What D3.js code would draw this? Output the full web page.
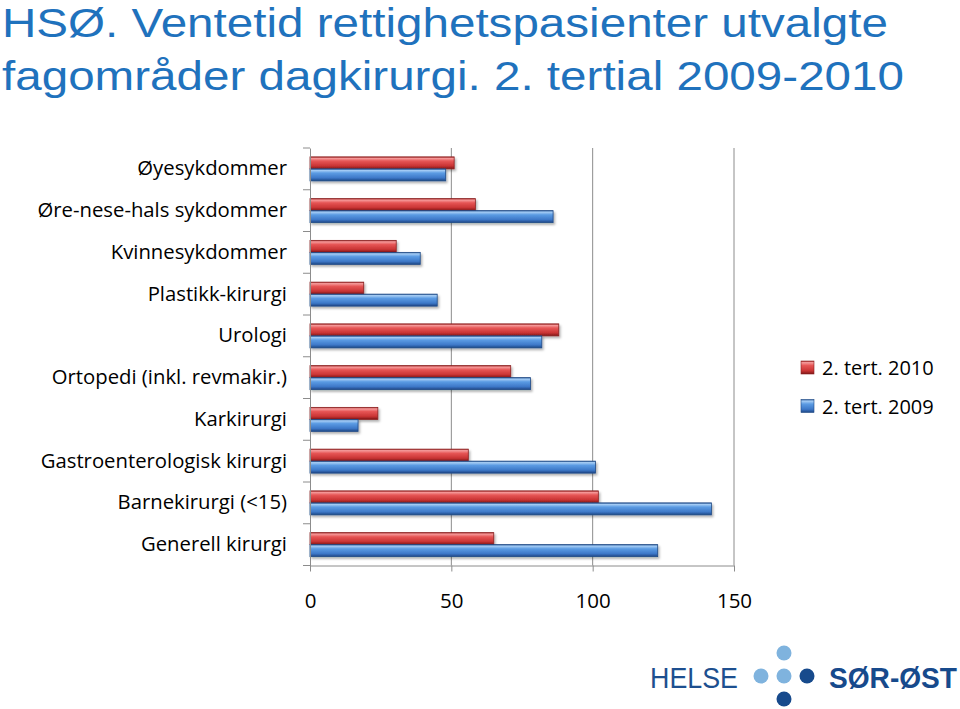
<!DOCTYPE html>
<html><head><meta charset="utf-8">
<script src="https://cdn.jsdelivr.net/npm/d3@7"></script>
<style>body{margin:0;background:#fff}svg{display:block}</style>
</head><body>
<script>
const categories = ["Øyesykdommer","Øre-nese-hals sykdommer","Kvinnesykdommer","Plastikk-kirurgi","Urologi","Ortopedi (inkl. revmakir.)","Karkirurgi","Gastroenterologisk kirurgi","Barnekirurgi (<15)","Generell kirurgi"];
const seriesNames = ["2. tert. 2010","2. tert. 2009"];
const values2010 = [51,58.5,30.5,19,88,71,24,56,102,65];
const values2009 = [48,86,39,45,82,78,17,101,142,123];
const xTicks = [0,50,100,150];
const titleLines = ["HSØ. Ventetid rettighetspasienter utvalgte","fagområder dagkirurgi. 2. tertial 2009-2010"];
const titleWidths = [886,902];

const W=960,H=709;
const FONT="'Open Sans', Lato, sans-serif";
const svg=d3.select("body").append("svg").attr("width",W).attr("height",H);
const defs=svg.append("defs");
function grad(id,stops){const g=defs.append("linearGradient").attr("id",id).attr("x1",0).attr("y1",0).attr("x2",0).attr("y2",1);
 stops.forEach(s=>g.append("stop").attr("offset",s[0]).attr("stop-color",s[1]));}
grad("gRed",[[0,"#a52a2a"],[0.12,"#f59a9a"],[0.35,"#e65555"],[0.75,"#c93434"],[1,"#7e1717"]]);
grad("gBlue",[[0,"#2a5a9a"],[0.12,"#a6cdf5"],[0.35,"#5b9be3"],[0.75,"#3d78c8"],[1,"#1d4684"]]);
const f=defs.append("filter").attr("id","sh").attr("x","-5%").attr("y","-20%").attr("width","115%").attr("height","160%");
f.append("feDropShadow").attr("dx",1.5).attr("dy",2).attr("stdDeviation",1.2).attr("flood-color","#000").attr("flood-opacity",0.3);

// title
svg.append("g").selectAll("text").data(titleLines).join("text")
 .attr("x",2).attr("y",(d,i)=>37+i*53)
 .attr("font-family","Liberation Sans, Arial, sans-serif").attr("font-size",41)
 .attr("textLength",(d,i)=>titleWidths[i]).attr("lengthAdjust","spacingAndGlyphs")
 .attr("fill","#1f72bd").text(d=>d);

const x=d3.scaleLinear().domain([0,150]).range([310,734]);
const y=d3.scaleBand().domain(categories).range([148,565.5]);
const sub=d3.scaleBand().domain(seriesNames).range([0,24]);
const barOff=(y.bandwidth()-24)/2;

// gridlines
svg.append("g").selectAll("line").data(xTicks.slice(1)).join("line")
 .attr("x1",d=>x(d)).attr("x2",d=>x(d)).attr("y1",148).attr("y2",565.5)
 .attr("stroke","#8c8c8c").attr("stroke-width",1);

// bars
const fills={"2. tert. 2010":"url(#gRed)","2. tert. 2009":"url(#gBlue)"};
const edges={"2. tert. 2010":"#8b2020","2. tert. 2009":"#1f4a86"};
const rows=categories.map((c,i)=>({c,vals:[{s:seriesNames[0],v:values2010[i]},{s:seriesNames[1],v:values2009[i]}]}));
const g=svg.append("g");
rows.forEach(r=>{
 r.vals.forEach(d=>{
  g.append("rect").attr("x",x(0)).attr("y",y(r.c)+barOff+sub(d.s))
   .attr("width",x(d.v)-x(0)).attr("height",sub.bandwidth())
   .attr("fill",fills[d.s]).attr("stroke",edges[d.s]).attr("stroke-width",0.8).attr("filter","url(#sh)");
 });
});

// axes
const yAx=svg.append("g").attr("transform","translate(310,0)")
 .call(d3.axisLeft(y).tickSize(0).tickPadding(23).tickSizeOuter(0));
yAx.select(".domain").attr("stroke","#8c8c8c");
yAx.selectAll("text").attr("font-family",FONT).attr("font-size",20.3).attr("fill","#000");
svg.append("g").selectAll("line").data(d3.range(categories.length+1)).join("line")
 .attr("x1",303).attr("x2",310).attr("y1",i=>148+i*y.step()).attr("y2",i=>148+i*y.step())
 .attr("stroke","#8c8c8c");

const xAx=svg.append("g").attr("transform","translate(0,565.5)")
 .call(d3.axisBottom(x).tickValues(xTicks).tickSize(6).tickPadding(22).tickSizeOuter(0));
xAx.select(".domain").attr("stroke","#8c8c8c");
xAx.selectAll("line").attr("stroke","#8c8c8c");
xAx.selectAll("text").attr("font-family",FONT).attr("font-size",20.5).attr("fill","#000");

// legend
const lg=svg.append("g").attr("transform","translate(801,361)");
seriesNames.forEach((s,i)=>{
 const gg=lg.append("g").attr("transform",`translate(0,${i*38.5})`);
 gg.append("rect").attr("width",13).attr("height",13).attr("fill",fills[s]).attr("stroke",edges[s]).attr("stroke-width",0.6);
 gg.append("text").attr("x",21).attr("y",7).attr("dy","0.36em").attr("font-family",FONT)
  .attr("font-size",20).attr("fill","#000").text(s);
});

// logo
const logo=svg.append("g");
logo.append("text").attr("x",650).attr("y",688).attr("font-family","Liberation Sans, Arial, sans-serif").attr("font-size",29)
 .attr("fill","#1d4f8f").attr("textLength",88).attr("lengthAdjust","spacingAndGlyphs").text("HELSE");
const dots=[[784,653,"#7fb3de"],[761,676,"#7fb3de"],[784,676,"#7fb3de"],[807,676,"#174a8c"],[784,699,"#174a8c"]];
logo.selectAll("circle").data(dots).join("circle").attr("cx",d=>d[0]).attr("cy",d=>d[1]).attr("r",7.5).attr("fill",d=>d[2]);
logo.append("text").attr("x",829).attr("y",688).attr("font-family","Liberation Sans, Arial, sans-serif").attr("font-weight","bold")
 .attr("font-size",29).attr("fill","#174a8c").attr("textLength",128).attr("lengthAdjust","spacingAndGlyphs").text("SØR-ØST");
</script>
</body></html>
